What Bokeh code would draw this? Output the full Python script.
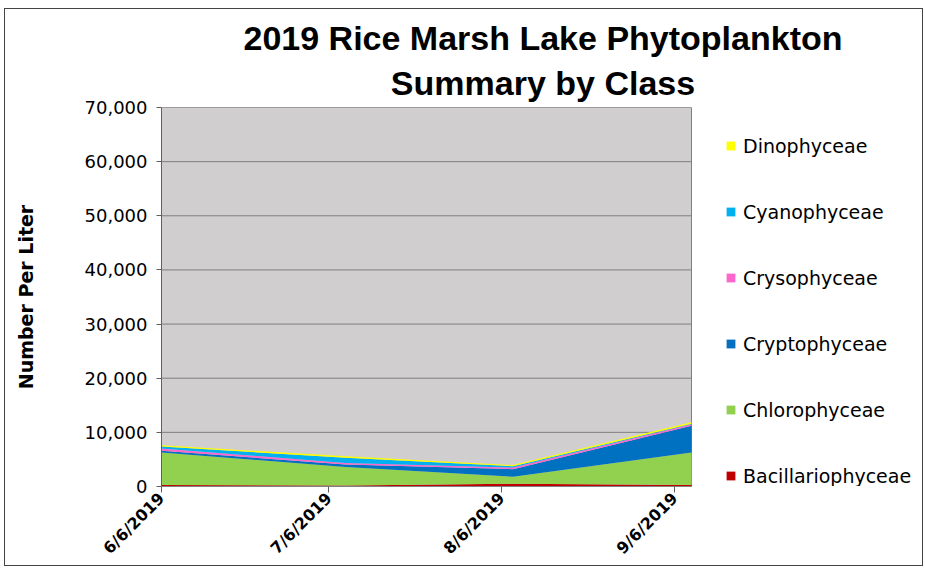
import pandas as pd
from math import pi
from bokeh.plotting import figure
from bokeh.models import (ColumnDataSource, Range1d, FixedTicker, NumeralTickFormatter,
                          Legend, LegendItem, Title, BoxAnnotation)
from bokeh.embed import file_html
from bokeh.resources import INLINE

# ---- data ----
dates = ["2019-06-06", "2019-07-09", "2019-08-08", "2019-09-09"]
bacillariophyceae = [300, 200, 500, 300]
chlorophyceae = [6000, 3400, 1300, 6000]
cryptophyceae = [300, 450, 1400, 4900]
crysophyceae = [400, 300, 300, 300]
cyanophyceae = [400, 950, 250, 100]
dinophyceae = [200, 300, 200, 250]

classes = ["Bacillariophyceae", "Chlorophyceae", "Cryptophyceae",
           "Crysophyceae", "Cyanophyceae", "Dinophyceae"]
colors = ["#C00000", "#92D050", "#0070C0", "#FF66CC", "#00B0F0", "#FFFF00"]

tick_dates = ["2019-06-06", "2019-07-06", "2019-08-06", "2019-09-06"]
tick_labels = ["6/6/2019", "7/6/2019", "8/6/2019", "9/6/2019"]
y_ticks = [0, 10000, 20000, 30000, 40000, 50000, 60000, 70000]
x_start, x_end = "2019-06-06", "2019-09-09"
y_min, y_max = 0, 70000

title_lines = ["2019 Rice Marsh Lake Phytoplankton", "Summary by Class"]
y_title = "Number Per Liter"

# ---- layout constants (pixels) ----
W, H = 919, 558
LEFT, TOP, BOTTOM = 156, 98, 81
PLOT_W = 530            # width of the grey plotting area; legend sits to its right
FRAME_W = W - LEFT

# ---- build ----
source = ColumnDataSource(dict(
    date=pd.to_datetime(dates),
    Bacillariophyceae=bacillariophyceae,
    Chlorophyceae=chlorophyceae,
    Cryptophyceae=cryptophyceae,
    Crysophyceae=crysophyceae,
    Cyanophyceae=cyanophyceae,
    Dinophyceae=dinophyceae,
))

def ms(s):
    return float(pd.Timestamp(s).value // 10**6)

x0, x1 = ms(x_start), ms(x_end)
p = figure(width=W, height=H, x_axis_type="datetime",
           output_backend="svg", toolbar_location=None, title=None,
           x_range=Range1d(x0, x0 + (x1 - x0) * FRAME_W / PLOT_W),
           y_range=Range1d(y_min, y_max),
           min_border_left=LEFT, min_border_right=0, min_border_top=TOP,
           min_border_bottom=BOTTOM)
p.styles = {"border": "1px solid #444444", "margin": "8px 0px 0px 4px"}
p.background_fill_color = "white"
p.border_fill_color = "white"
p.outline_line_color = None
p.xgrid.visible = False
p.ygrid.visible = False

# grey plot area with its outline
p.add_layout(BoxAnnotation(left=x0, right=x1, bottom=y_min, top=y_max,
                           fill_color="#D0CECE", fill_alpha=1,
                           line_color="#808080", line_alpha=1, line_width=1,
                           level="underlay"))
# horizontal gridlines across the plot area only
p.segment(x0=[x0] * len(y_ticks), x1=[x1] * len(y_ticks), y0=y_ticks, y1=y_ticks,
          line_color="#7F7F7F", line_width=1)

renderers = p.varea_stack(stackers=classes, x="date", color=colors, source=source)

# axes
tick_ms = [ms(d) for d in tick_dates]
p.xaxis.bounds = (x0, x1)
p.xaxis.ticker = FixedTicker(ticks=tick_ms)
p.xaxis.major_label_overrides = {t: l for t, l in zip(tick_ms, tick_labels)}
p.xaxis.major_label_orientation = pi / 4
p.xaxis.major_label_text_font = "DejaVu Sans"
p.xaxis.major_label_text_font_style = "bold"
p.xaxis.major_label_text_font_size = "16px"
p.xaxis.major_label_text_color = "black"
p.xaxis.major_label_standoff = 3
p.xaxis.minor_tick_line_color = None
p.xaxis.major_tick_out = 6
p.xaxis.major_tick_in = 0
p.xaxis.axis_line_color = "#808080"
p.xaxis.major_tick_line_color = "#606060"

p.yaxis.ticker = FixedTicker(ticks=y_ticks)
p.yaxis.formatter = NumeralTickFormatter(format="0,0")
p.yaxis.major_label_text_font = "DejaVu Sans"
p.yaxis.major_label_text_font_size = "18px"
p.yaxis.major_label_text_color = "black"
p.yaxis.major_label_standoff = 9
p.yaxis.minor_tick_line_color = None
p.yaxis.major_tick_out = 5
p.yaxis.major_tick_in = 0
p.yaxis.axis_line_color = "#606060"
p.yaxis.major_tick_line_color = "#606060"
p.yaxis.axis_label = y_title
p.yaxis.axis_label_text_font = "DejaVu Sans"
p.yaxis.axis_label_text_font_style = "bold"
p.yaxis.axis_label_text_font_size = "19px"
p.yaxis.axis_label_text_color = "black"
p.yaxis.axis_label_standoff = 45

# titles (first added sits nearest the plot); centred over the frame
for txt, so in [(title_lines[1], 11), (title_lines[0], 0)]:
    p.add_layout(Title(text=txt, align="center", standoff=so,
                       text_font="Liberation Sans", text_font_style="bold",
                       text_font_size="34px", text_color="black"), "above")

# legend to the right of the grey area (inside the frame)
items = [LegendItem(label=c, renderers=[r]) for c, r in zip(classes, renderers)][::-1]
legend = Legend(items=items, location=(PLOT_W + 34, -1), padding=0, margin=0,
                spacing=43, label_height=23, glyph_height=11, glyph_width=11,
                label_standoff=7, label_text_font="DejaVu Sans",
                label_text_font_size="19px", label_text_color="black",
                border_line_alpha=0, background_fill_alpha=0)
p.add_layout(legend, "center")

open("out.html", "w").write(file_html(p, INLINE))
